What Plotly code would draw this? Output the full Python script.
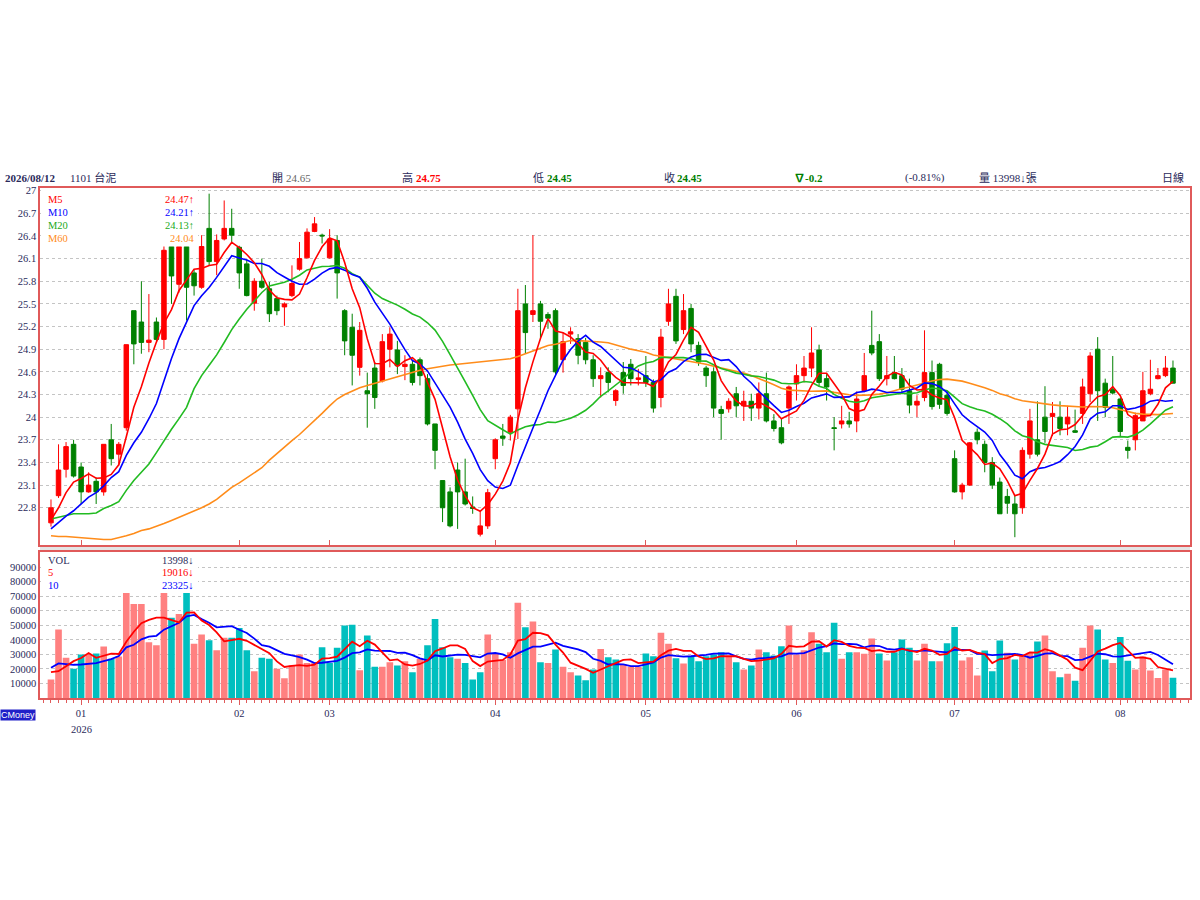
import pandas as pd
import plotly.graph_objects as go

# 1101 台泥 daily bars, last one 2026/08/12 (x = trading day index)
opens = [22.60, 22.96, 23.31, 23.64, 23.34, 23.01, 23.15, 23.01, 23.70, 23.51,
         23.86, 25.41, 25.26, 24.99, 25.26, 25.03, 26.26, 25.76, 26.26, 25.91,
         25.72, 26.50, 26.06, 26.36, 26.50, 26.25, 26.03, 25.51, 25.80, 25.70,
         25.57, 25.46, 25.61, 25.96, 26.11, 26.46, 26.41, 26.11, 26.34, 25.41,
         25.19, 24.66, 24.35, 24.65, 24.48, 24.90, 24.89, 24.67, 24.70, 24.76,
         24.51, 23.91, 23.16, 23.01, 23.30, 23.01, 22.81, 22.45, 22.56, 23.45,
         23.75, 23.80, 24.11, 25.50, 25.36, 25.50, 25.36, 25.41, 24.76, 25.10,
         25.04, 24.99, 24.76, 24.51, 24.59, 24.22, 24.59, 24.70, 24.50, 24.55,
         24.46, 24.26, 25.27, 25.60, 25.16, 25.44, 24.95, 24.65, 24.60, 24.10,
         24.11, 24.31, 24.15, 24.21, 24.12, 24.31, 23.95, 23.86, 24.12, 24.44,
         24.55, 24.65, 24.89, 24.51, 23.86, 23.91, 23.95, 23.95, 24.35, 24.95,
         25.00, 24.51, 24.59, 24.55, 24.35, 24.16, 24.26, 24.59, 24.70, 24.29,
         23.45, 23.01, 23.10, 23.80, 23.64, 23.40, 23.14, 22.95, 22.85, 22.80,
         23.51, 23.70, 24.00, 24.01, 24.00, 23.91, 23.82, 24.05, 24.31, 24.90,
         24.45, 24.37, 24.24, 23.60, 23.70, 23.95, 24.31, 24.51, 24.55, 24.65]
highs = [22.91, 23.64, 23.67, 23.70, 23.40, 23.27, 23.20, 23.64, 23.91, 23.67,
         24.96, 25.41, 25.80, 25.63, 25.32, 26.30, 26.30, 26.32, 26.32, 25.96,
         26.41, 26.96, 26.42, 26.87, 26.76, 26.27, 26.09, 25.84, 26.10, 25.79,
         25.61, 25.52, 26.01, 26.32, 26.50, 26.65, 26.43, 26.49, 26.41, 25.43,
         25.37, 25.26, 24.59, 24.73, 25.10, 25.19, 25.01, 24.82, 24.75, 24.79,
         24.57, 23.91, 23.16, 23.07, 23.40, 23.45, 22.95, 22.76, 23.05, 23.72,
         23.91, 24.03, 25.70, 25.75, 26.41, 25.54, 25.39, 25.44, 25.12, 25.19,
         25.10, 25.05, 24.82, 24.66, 24.66, 24.37, 24.73, 24.77, 24.64, 24.81,
         24.50, 25.17, 25.70, 25.70, 25.63, 25.50, 25.00, 24.68, 24.66, 24.15,
         24.25, 24.40, 24.35, 24.31, 24.46, 24.59, 24.04, 23.98, 24.42, 24.70,
         24.81, 25.19, 24.96, 24.57, 24.00, 24.15, 24.07, 24.34, 24.85, 25.41,
         25.10, 24.81, 24.81, 24.65, 24.51, 24.29, 25.15, 24.75, 24.72, 24.33,
         23.56, 23.13, 23.67, 23.85, 23.69, 23.47, 23.20, 23.05, 22.96, 23.60,
         24.11, 24.21, 24.41, 24.20, 24.21, 24.15, 24.10, 24.51, 24.86, 25.06,
         24.51, 24.81, 24.26, 23.69, 24.06, 24.60, 24.76, 24.65, 24.81, 24.75]
lows = [22.55, 22.93, 23.20, 23.20, 22.85, 23.00, 22.85, 22.96, 23.36, 23.36,
        23.82, 24.70, 24.84, 24.86, 25.01, 24.90, 25.50, 25.65, 25.28, 25.61,
        25.70, 26.01, 25.88, 26.34, 26.32, 25.70, 25.60, 25.41, 25.70, 25.26,
        25.35, 25.21, 25.59, 25.94, 26.10, 26.45, 26.30, 26.10, 25.57, 24.82,
        24.42, 24.55, 23.86, 24.11, 24.46, 24.66, 24.57, 24.49, 24.42, 24.42,
        23.89, 23.31, 22.61, 22.54, 22.52, 22.83, 22.72, 22.42, 22.52, 23.31,
        23.62, 23.69, 23.71, 24.84, 25.26, 25.04, 25.17, 24.55, 24.59, 24.97,
        24.70, 24.70, 24.40, 24.26, 24.33, 24.15, 24.31, 24.42, 24.42, 24.40,
        24.06, 24.13, 25.21, 24.97, 25.10, 24.86, 24.68, 24.40, 24.00, 23.70,
        24.06, 24.00, 23.95, 23.95, 23.97, 23.93, 23.81, 23.64, 23.91, 24.22,
        24.46, 24.53, 24.40, 24.22, 23.56, 23.85, 23.86, 23.80, 24.33, 24.82,
        24.48, 24.42, 24.50, 24.33, 24.05, 24.00, 24.21, 24.10, 24.11, 24.02,
        23.00, 22.91, 23.09, 23.64, 23.27, 23.05, 22.72, 22.72, 22.41, 22.72,
        23.45, 23.48, 23.66, 23.75, 23.76, 23.76, 23.79, 23.91, 24.20, 23.95,
        24.00, 24.30, 23.75, 23.45, 23.56, 23.95, 24.29, 24.50, 24.53, 24.45]
closes = [22.80, 23.30, 23.61, 23.22, 23.01, 23.10, 23.01, 23.64, 23.45, 23.64,
          24.96, 24.97, 24.99, 25.02, 25.03, 26.21, 25.87, 26.26, 25.72, 25.74,
          26.26, 26.06, 26.34, 26.50, 26.41, 25.91, 25.61, 25.80, 25.72, 25.37,
          25.41, 25.50, 25.77, 26.10, 26.45, 26.56, 26.40, 26.36, 25.91, 25.01,
          24.82, 25.15, 24.31, 24.26, 25.00, 25.10, 24.68, 24.70, 24.46, 24.55,
          23.91, 23.56, 22.80, 22.56, 23.01, 22.85, 22.79, 22.56, 23.00, 23.70,
          23.72, 24.00, 25.41, 25.12, 25.41, 25.27, 25.31, 24.60, 25.00, 25.13,
          24.82, 24.76, 24.51, 24.55, 24.46, 24.35, 24.42, 24.51, 24.52, 24.46,
          24.12, 25.06, 25.50, 25.01, 25.41, 24.97, 24.73, 24.55, 24.12, 24.05,
          24.21, 24.15, 24.21, 24.12, 24.31, 23.95, 23.85, 23.66, 24.40, 24.55,
          24.65, 24.85, 24.46, 24.40, 23.85, 23.95, 23.91, 24.24, 24.55, 24.85,
          24.51, 24.55, 24.51, 24.37, 24.16, 24.21, 24.59, 24.14, 24.17, 24.05,
          23.01, 23.10, 23.66, 23.70, 23.40, 23.10, 22.72, 22.86, 22.72, 23.56,
          23.95, 23.51, 23.81, 24.05, 23.85, 24.00, 23.80, 24.40, 24.81, 24.35,
          24.13, 24.32, 23.81, 23.56, 24.02, 24.35, 24.37, 24.55, 24.65, 24.45]
volumes = [12800, 47100, 27700, 20100, 30000, 30000, 30600, 35500, 27000, 28500,
           72200, 64700, 64700, 38400, 36300, 72200, 55100, 57800, 72200, 37300,
           43700, 39800, 32900, 41400, 41400, 48200, 32900, 18500, 27700, 27000,
           20100, 13700, 22500, 30000, 24200, 24200, 35000, 24200, 34500, 49800,
           50300, 19200, 43000, 21500, 21500, 24700, 22400, 25400, 17800, 27000,
           36300, 54400, 35000, 28100, 27000, 24200, 12800, 17800, 43700, 30600,
           26100, 31500, 65400, 48700, 52600, 24700, 24200, 33400, 21500, 17800,
           15500, 12300, 19700, 33800, 28100, 26500, 23100, 21500, 21300, 30600,
           28800, 44800, 37300, 27400, 23800, 28800, 25400, 28800, 30000, 31500,
           28800, 24700, 19700, 22400, 33400, 31500, 29300, 35700, 49800, 30000,
           32900, 45300, 37300, 31500, 51700, 27000, 31500, 31500, 30400, 40900,
           30600, 25800, 31500, 40200, 34500, 25800, 37300, 25400, 25400, 37700,
           48900, 25800, 28100, 15500, 32700, 18500, 39500, 31100, 26500, 28800,
           31100, 38900, 43000, 18500, 14400, 16700, 11900, 34500, 49800, 47100,
           26500, 24200, 42000, 25700, 19700, 28500, 19000, 13900, 19700, 13998]

# average values before a full window is on the chart
ma5_head = [22.64, 22.80, 23.00, 23.14]
ma10_head = [22.52, 22.61, 22.69, 22.76, 22.85, 22.94, 23.00, 23.09, 23.20]
ma20_head = [22.65, 22.67, 22.70, 22.72, 22.72, 22.72, 22.73, 22.79, 22.83, 22.88,
             23.03, 23.16, 23.27, 23.38, 23.53, 23.69, 23.84, 23.98, 24.13]
ma60_head = [22.43, 22.42, 22.42, 22.41, 22.40, 22.39, 22.38, 22.38, 22.38, 22.40,
             22.43, 22.46, 22.50, 22.52, 22.55, 22.59, 22.63, 22.67, 22.72, 22.76,
             22.80, 22.85, 22.91, 22.99, 23.07, 23.13, 23.20, 23.26, 23.33, 23.43,
             23.52, 23.61, 23.69, 23.77, 23.86, 23.96, 24.05, 24.15, 24.24, 24.30,
             24.35, 24.39, 24.42, 24.45, 24.47, 24.50, 24.53, 24.56, 24.59, 24.62,
             24.64, 24.66, 24.67, 24.69, 24.70, 24.71, 24.72, 24.73, 24.74]
vol5_head = [17800, 18500, 21900, 25400]
vol10_head = [20800, 23800, 23300, 22900, 23100, 23500, 24000, 25400, 26800]

month_pos = [4, 25, 37, 59, 79, 99, 120, 142]
month_text = ["01", "02", "03", "04", "05", "06", "07", "08"]
price_ticks = [22.8, 23.1, 23.4, 23.7, 24.0, 24.3, 24.6, 24.9, 25.2, 25.5, 25.8, 26.1, 26.4, 26.7, 27.0]
price_text = ["22.8", "23.1", "23.4", "23.7", "24", "24.3", "24.6", "24.9", "25.2", "25.5", "25.8", "26.1", "26.4", "26.7", "27"]
vol_ticks = [10000, 20000, 30000, 40000, 50000, 60000, 70000, 80000, 90000]

SERIF = "Liberation Serif, Noto Sans CJK TC, serif"
BORDER = "#E05A5A"
NAVY = "#2a2a5a"
RED = "#FF0000"
GREEN = "#008000"


def moving(values, n, head):
    s = pd.Series(values, dtype=float).rolling(n).mean()
    s.iloc[:n - 1] = head
    return s


days = list(range(len(closes)))
ma5 = moving(closes, 5, ma5_head)
ma10 = moving(closes, 10, ma10_head)
ma20 = moving(closes, 20, ma20_head)
ma60 = moving(closes, 60, ma60_head)
vol5 = moving(volumes, 5, vol5_head)
vol10 = moving(volumes, 10, vol10_head)

# volume colour follows close vs previous close
vol_colors = []
for i in range(len(closes)):
    prev = closes[i - 1] if i > 0 else opens[0]
    vol_colors.append("#FF8080" if closes[i] >= prev else "#00BFBF")

fig = go.Figure()
fig.add_trace(go.Candlestick(
    x=days, open=opens, high=highs, low=lows, close=closes,
    increasing=dict(line=dict(color=RED, width=1), fillcolor=RED),
    decreasing=dict(line=dict(color=GREEN, width=1), fillcolor=GREEN),
    whiskerwidth=0, showlegend=False, xaxis="x", yaxis="y"))
for line, color in [(ma60, "#FF8C1A"), (ma20, "#22BB22"), (ma10, "#0000FF"), (ma5, "#FF0000")]:
    fig.add_trace(go.Scatter(x=days, y=line, mode="lines", line=dict(color=color, width=1.6),
                             showlegend=False, xaxis="x", yaxis="y"))

fig.add_trace(go.Bar(x=days, y=volumes, marker=dict(color=vol_colors, line=dict(width=0)),
                     showlegend=False, xaxis="x2", yaxis="y2"))
for line, color in [(vol10, "#0000FF"), (vol5, "#FF0000")]:
    fig.add_trace(go.Scatter(x=days, y=line, mode="lines", line=dict(color=color, width=1.8),
                             showlegend=False, xaxis="x2", yaxis="y2"))

xr = [-1.46, 151.26]
fig.update_layout(
    width=1200, height=900,
    margin=dict(l=40, r=10, t=0, b=0),
    paper_bgcolor="white", plot_bgcolor="white",
    boxgap=0.15, bargap=0.12,
    font=dict(family=SERIF, size=11, color=NAVY),
    xaxis=dict(domain=[0, 1], range=xr, anchor="y", rangeslider=dict(visible=False),
               tickvals=month_pos, showticklabels=False, ticks="inside", ticklen=5,
               tickcolor=BORDER, showgrid=False, zeroline=False,
               showline=True, mirror=True, linecolor=BORDER, linewidth=1.5),
    yaxis=dict(domain=[0.3956, 0.7933], range=[22.31, 27.04], tickvals=price_ticks,
               ticktext=price_text, ticks="", showgrid=True, gridcolor="#C4C4C4",
               griddash="dot", gridwidth=1, zeroline=False, showline=True, mirror=True,
               linecolor=BORDER, linewidth=1.5, tickfont=dict(size=10.5, color=NAVY)),
    xaxis2=dict(domain=[0, 1], range=xr, anchor="y2", tickvals=month_pos, ticktext=month_text,
                ticks="outside", ticklen=5, tickcolor=BORDER,
                minor=dict(ticks="outside", ticklen=3, tickcolor=BORDER, tickmode="linear",
                           tick0=0, dtick=1),
                showgrid=False, zeroline=False, showline=True, mirror=True,
                linecolor=BORDER, linewidth=1.5, tickfont=dict(size=10.5, color=NAVY)),
    yaxis2=dict(domain=[0.2248, 0.3870], range=[0, 100000], tickvals=vol_ticks,
                ticks="", showgrid=True, gridcolor="#C4C4C4", griddash="dot", gridwidth=1,
                zeroline=False, showline=True, mirror=True, linecolor=BORDER, linewidth=1.5,
                tickformat="d", tickfont=dict(size=10.5, color=NAVY)),
)


def px_x(px):
    return (px - 40) / 1150


def px_y(py):
    return 1 - py / 900


def label(px, py, text, color=NAVY, size=11, anchor="left", bold=False):
    if bold:
        text = "<b>" + text + "</b>"
    fig.add_annotation(x=px_x(px), y=px_y(py), xref="paper", yref="paper", text=text,
                       showarrow=False, xanchor=anchor, yanchor="middle",
                       font=dict(family=SERIF, size=size, color=color))


# grey band between the two panes, white boxes behind the in-chart legends
fig.add_shape(type="rect", xref="paper", yref="paper", x0=0, x1=1,
              y0=px_y(550.5), y1=px_y(545), fillcolor="#E4E4E4", line=dict(width=0), layer="below")
fig.add_shape(type="rect", xref="paper", yref="paper", x0=px_x(41), x1=px_x(198),
              y0=px_y(245), y1=px_y(187), fillcolor="white", line=dict(width=0), layer="above")
fig.add_shape(type="rect", xref="paper", yref="paper", x0=px_x(41), x1=px_x(198),
              y0=px_y(592), y1=px_y(553), fillcolor="white", line=dict(width=0), layer="above")

# header line
label(3, 176, "2026/08/12", bold=True)
label(68, 176, "1101 台泥")
label(270, 176, "開")
label(284, 176, "24.65", color="#666666")
label(400, 176, "高")
label(414, 176, "24.75", color=RED, bold=True)
label(531, 176, "低")
label(545, 176, "24.45", color=GREEN, bold=True)
label(662, 176, "收")
label(675, 176, "24.45", color=GREEN, bold=True)
label(792, 176, "∇-0.2", color=GREEN, bold=True)
label(903, 176, "(-0.81%)")
label(977, 176, "量 13998↓張")
label(1160, 176, "日線")

# price legend
for py, name, val, color in [(198, "M5", "24.47↑", "#FF0000"),
                             (211, "M10", "24.21↑", "#0000FF"),
                             (224, "M20", "24.13↑", "#22AA22"),
                             (237, "M60", "24.04", "#FF8C1A")]:
    label(46, py, name, color=color, size=10.5)
    label(196, py, val, color=color, size=10.5, anchor="right")

# volume legend
for py, name, val, color in [(560, "VOL", "13998↓", NAVY),
                             (572, "5", "19016↓", "#FF0000"),
                             (585, "10", "23325↓", "#0000FF")]:
    label(46, py, name, color=color, size=10.5)
    label(196, py, val, color=color, size=10.5, anchor="right")

label(81, 729, "2026", size=10.5, anchor="center")
fig.add_annotation(x=px_x(0), y=px_y(715), xref="paper", yref="paper", text="CMoney",
                   showarrow=False, bgcolor="#2020C8", borderpad=0, xanchor="left",
                   yanchor="middle", font=dict(family="Liberation Sans", size=9, color="white"))

# page body margin off so figure pixels line up with the window
fig.write_html("out.html", config={"displayModeBar": False},
               post_script="document.body.style.margin='0px';")
